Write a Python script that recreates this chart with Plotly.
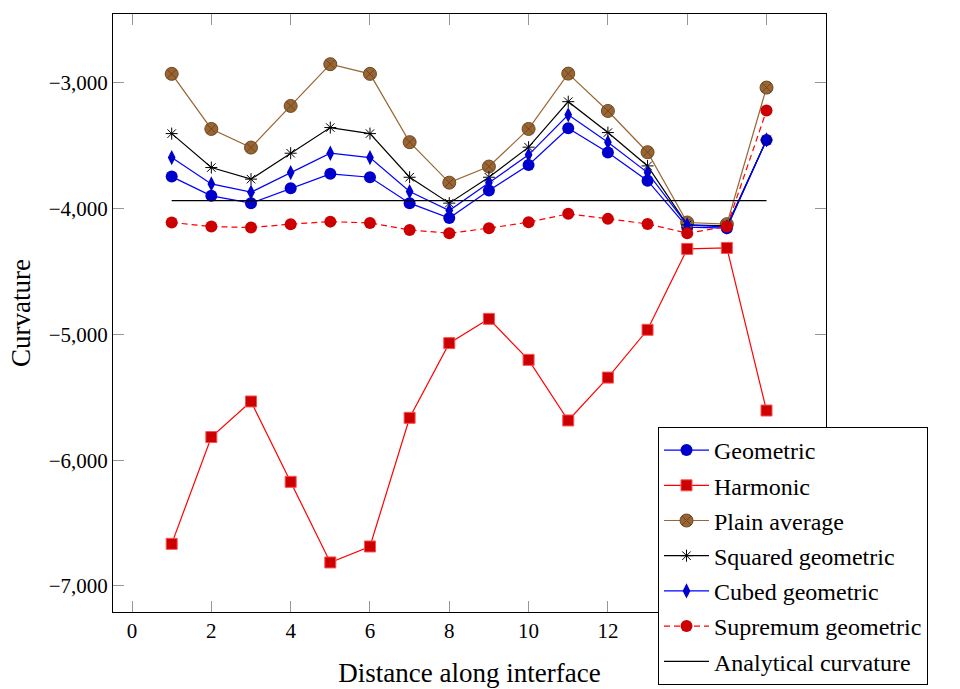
import plotly.graph_objects as go

x = list(range(1, 17))
geometric = [-3745, -3898, -3956, -3837, -3723, -3750, -3956, -4075, -3856, -3652, -3360, -3554, -3777, -4147, -4155, -3453]
harmonic = [-6665, -5816, -5533, -6172, -6813, -6686, -5663, -5069, -4876, -5202, -5684, -5343, -4963, -4320, -4312, -5605]
plain_average = [-2928, -3366, -3514, -3183, -2851, -2928, -3471, -3793, -3665, -3366, -2926, -3223, -3551, -4110, -4123, -3037]
squared_geometric = [-3403, -3673, -3765, -3559, -3355, -3403, -3750, -3956, -3750, -3511, -3149, -3395, -3660, -4129, -4137, -3453]
cubed_geometric = [-3594, -3803, -3869, -3713, -3559, -3594, -3864, -4015, -3793, -3572, -3254, -3471, -3713, -4129, -4147, -3453]
supremum_geometric = [-4110, -4142, -4150, -4123, -4103, -4113, -4169, -4195, -4155, -4107, -4041, -4081, -4121, -4195, -4142, -3220]
analytical_x = [1, 16]
analytical = [-3936, -3936]

xticks = [0, 2, 4, 6, 8, 10, 12, 14, 16]
xticklabels = ["0", "2", "4", "6", "8", "10", "12", "", ""]  # 14, 16 hidden behind legend
yticks = [-3000, -4000, -5000, -6000, -7000]

FONT = "Liberation Serif"

fig = go.Figure()

def add(name, y, color, mcolor, symbol, size, dash="solid", xs=None, mline=None, mode="lines+markers", lw=1.2):
    marker = dict(color=mcolor, symbol=symbol, size=size)
    if mline:
        marker["line"] = mline
    fig.add_trace(go.Scatter(
        x=xs if xs is not None else x, y=y, name=name, mode=mode,
        line=dict(color=color, width=lw, dash=dash),
        marker=marker, legendgroup=name,
    ))

add("Geometric", geometric, "rgb(0,0,255)", "rgb(0,0,204)", "circle", 12)
add("Harmonic", harmonic, "rgb(255,0,0)", "rgb(204,0,0)", "square", 11,
    mline=dict(color="rgb(255,80,80)", width=1))
add("Plain average", plain_average, "rgb(153,102,51)", "rgb(153,102,51)", "circle-x", 13,
    mline=dict(color="rgb(110,70,35)", width=1))
add("Squared geometric", squared_geometric, "black", "black", "asterisk-open", 10,
    mline=dict(color="black", width=1))
add("Cubed geometric", cubed_geometric, "rgb(0,0,255)", "rgb(0,0,204)", "diamond-tall", 11)
add("Supremum geometric", supremum_geometric, "rgb(255,0,0)", "rgb(204,0,0)", "circle", 12,
    dash="6px,4px")
fig.add_trace(go.Scatter(x=analytical_x, y=analytical, name="Analytical curvature", mode="lines",
                         line=dict(color="black", width=1.3), legendgroup="Analytical curvature"))

axis_common = dict(
    showline=True, linecolor="black", linewidth=1, mirror="allticks",
    ticks="inside", ticklen=11, tickcolor="rgb(150,150,150)", tickwidth=1,
    showgrid=False, zeroline=False,
    tickfont=dict(family=FONT, size=21, color="black"),
)

fig.update_layout(
    width=960, height=689,
    margin=dict(l=113, r=134, t=14, b=77, autoexpand=False),
    paper_bgcolor="white", plot_bgcolor="white",
    font=dict(family=FONT, color="black"),
    xaxis=dict(range=[-0.48, 17.5], tickvals=xticks, ticktext=xticklabels,
               title=dict(text="Distance along interface", font=dict(family=FONT, size=27), standoff=20),
               **axis_common),
    yaxis=dict(range=[-7207, -2452], tickvals=yticks, tickformat=",",
               **axis_common),
    legend=dict(x=(658 - 113) / 713, y=(612 - 427) / 598, xref="paper", yref="paper",
                xanchor="left", yanchor="top",
                bgcolor="white", bordercolor="black", borderwidth=1,
                font=dict(family=FONT, size=24), itemwidth=45,
                entrywidth=300, entrywidthmode="pixels",
                traceorder="grouped", tracegroupgap=1),
    annotations=[dict(text="Curvature", textangle=-90, x=21, y=313, xref="paper", yref="paper",
                      showarrow=False, font=dict(family=FONT, size=27))],
)
# place the y-axis title annotation in pixel terms
fig.layout.annotations[0].update(x=(21 - 113) / 713, y=(612 - 313) / 598,
                                  xanchor="center", yanchor="middle")

fig.write_html("out.html")
